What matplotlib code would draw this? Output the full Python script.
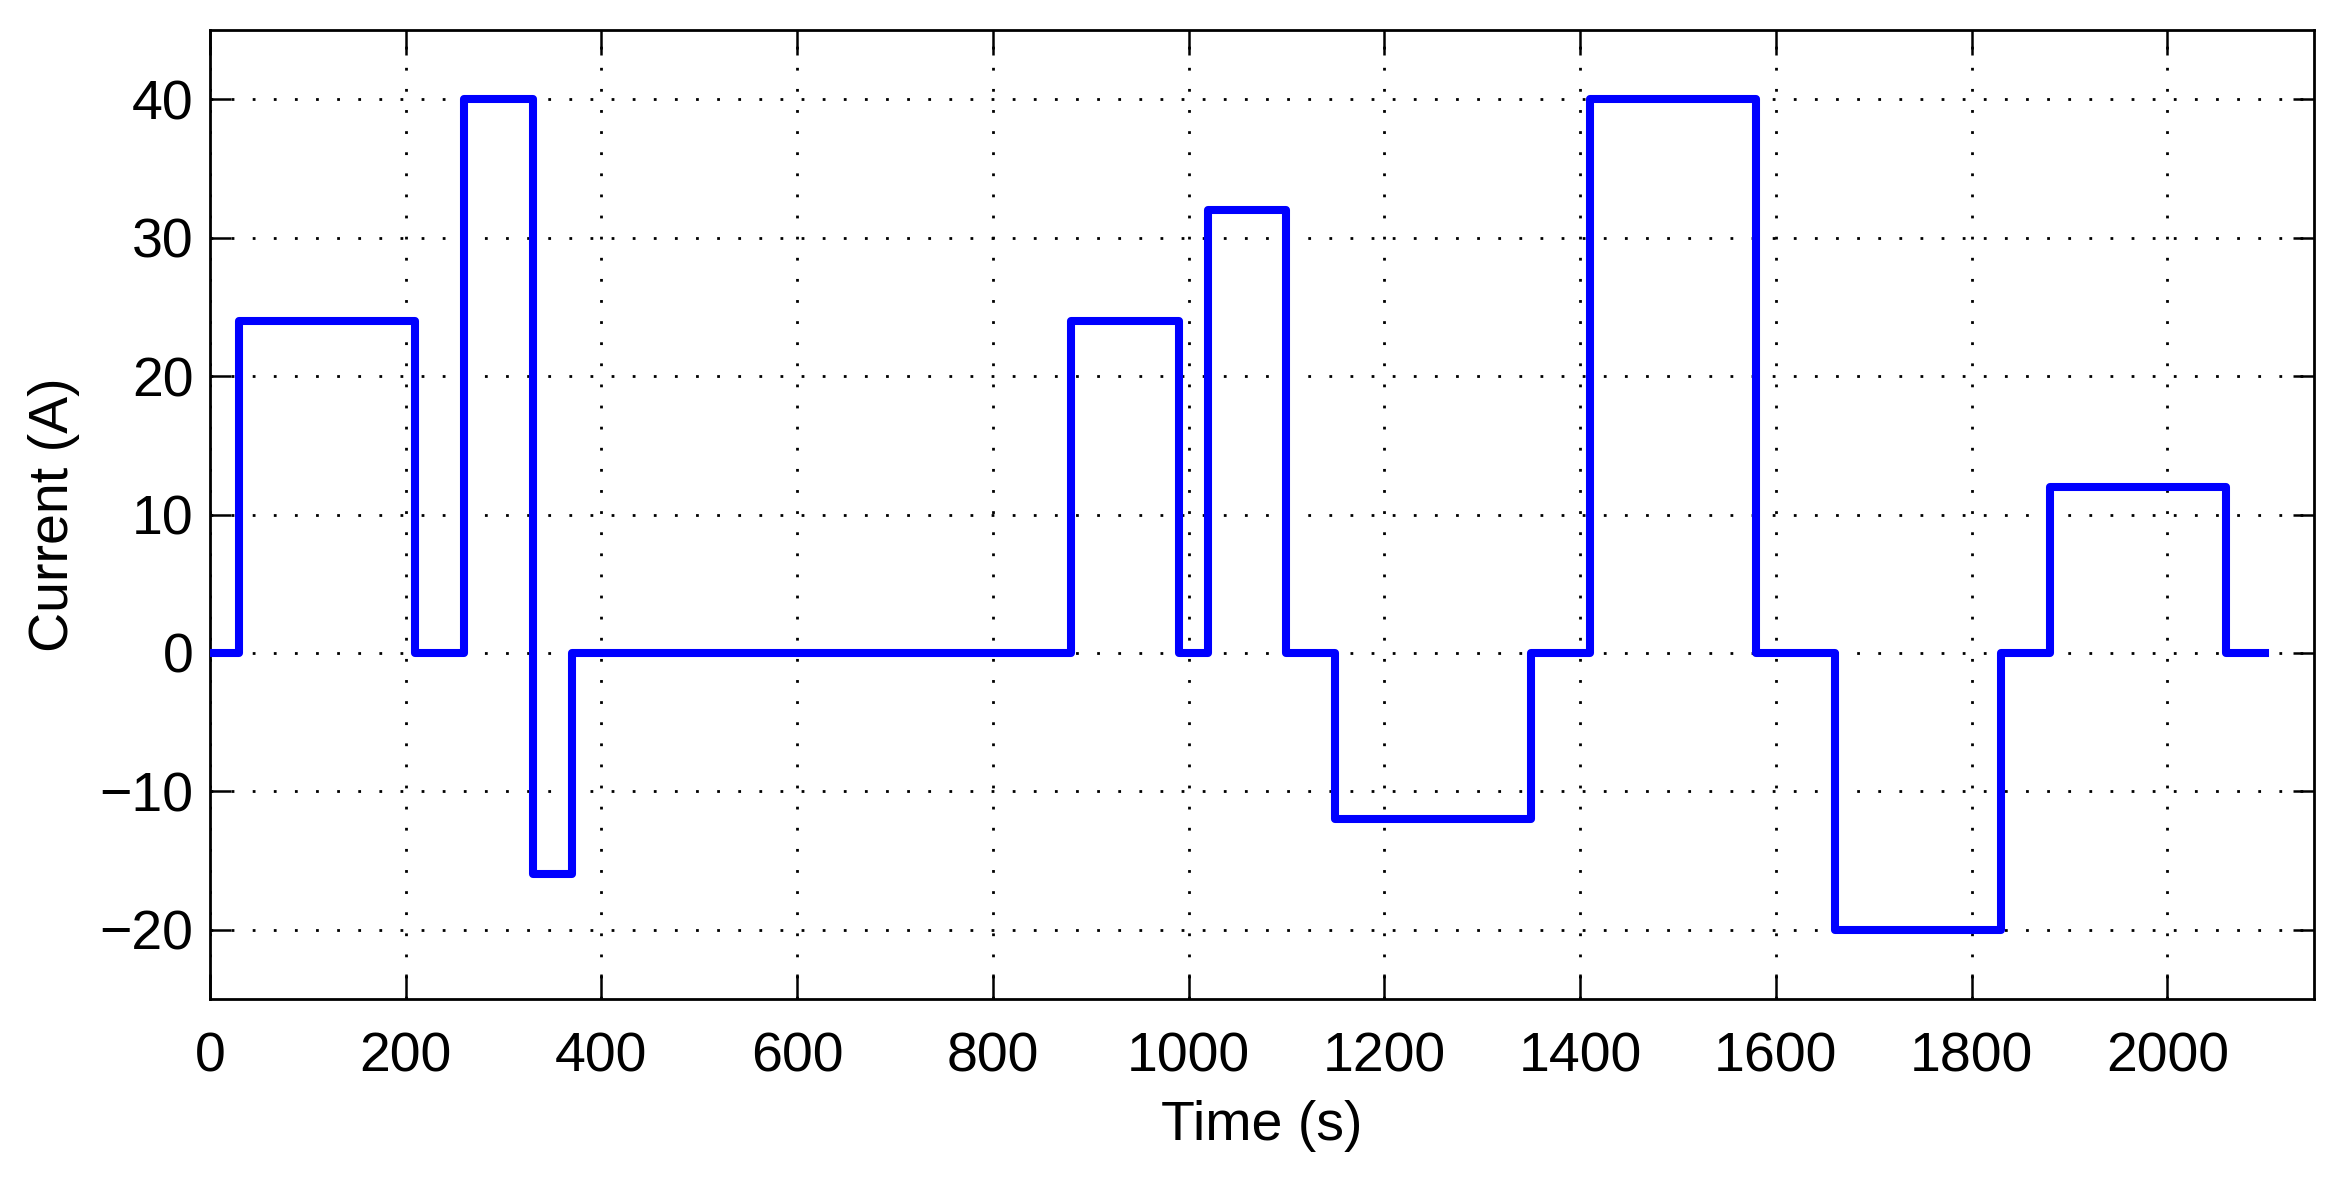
import matplotlib
matplotlib.use("Agg")
import matplotlib.pyplot as plt

# Data: step profile (time in s, current in A, held until next time)
times = [0, 30, 210, 260, 330, 370, 880, 990, 1020, 1100, 1150, 1350, 1410, 1580, 1660, 1830, 1880, 2060, 2100]
currents = [0, 24, 0, 40, -16, 0, 24, 0, 32, 0, -12, 0, 40, 0, -20, 0, 12, 0, 0]
x_ticks = list(range(0, 2001, 200))
y_ticks = [-20, -10, 0, 10, 20, 30, 40]

plt.rcParams['font.family'] = ['Liberation Sans', 'DejaVu Sans']

fig = plt.figure(figsize=(23.51, 11.84), dpi=100)
ax = fig.add_axes([0.0893, 0.1562, 0.9843 - 0.0893, 0.9747 - 0.1562])

ax.plot(times, currents, drawstyle='steps-post', color='#0000ff', lw=5.8, zorder=3)

ax.set_xlim(0, 2150)
ax.set_ylim(-25, 45)
ax.set_xticks(x_ticks)
ax.set_yticks(y_ticks)

ax.grid(True, color='black', lw=2.0, linestyle=(0, (1, 6.6)))
ax.set_axisbelow(True)

for s in ax.spines.values():
    s.set_linewidth(2.0)
    s.set_color('black')

ax.tick_params(axis='both', direction='in', top=True, right=True, width=1.8,
               labelsize=40, colors='black')
ax.tick_params(axis='x', length=18, pad=23)
ax.tick_params(axis='y', length=15, pad=12)

ax.set_xlabel('Time (s)', fontsize=40, labelpad=12)
ax.set_ylabel('Current (A)', fontsize=40, labelpad=14)

fig.savefig('out.png', dpi=100)
